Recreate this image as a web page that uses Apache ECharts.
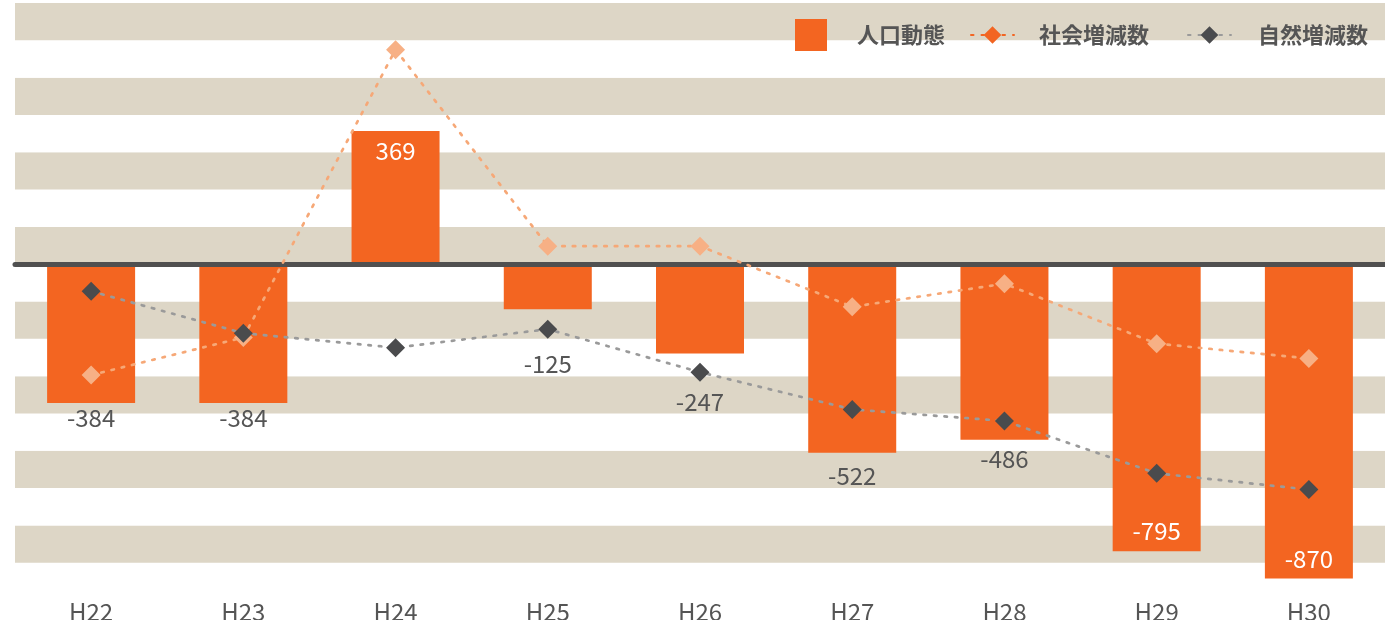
<!DOCTYPE html>
<html>
<head>
<meta charset="utf-8">
<script src="https://cdn.jsdelivr.net/npm/echarts@6/dist/echarts.min.js"></script>
<style>
  html, body { margin: 0; padding: 0; background: #fff; }
  #main { width: 1385px; height: 620px; }
</style>
</head>
<body>
<!-- 人口動態グラフ -->
<div id="main"></div>
<script>
// 年度
const categories = ["H22", "H23", "H24", "H25", "H26", "H27", "H28", "H29", "H30"];
// 人口動態（棒）
const population = [-384, -384, 369, -125, -247, -522, -486, -795, -870];
// 社会増減数
const socialChange = [-307, -203, 594, 50, 50, -118, -54, -220, -261];
// 自然増減数
const naturalChange = [-75, -191, -231, -180, -299, -402, -434, -579, -624];
// 棒の中にラベルを置く年度
const insideLabels = ["H24", "H29", "H30"];
// マーカーと重ならないようにラベルを下げる距離
const labelGap = { H25: 43, H26: 36, H27: 11, H28: 7 };

const FONT = "'Noto Sans CJK JP', 'Noto Sans', sans-serif";

const barData = population.map(function (v, i) {
  const inside = insideLabels.indexOf(categories[i]) >= 0;
  return {
    value: v,
    label: inside
      ? { position: v > 0 ? "insideTop" : "insideBottom", color: "#fff", distance: 8 }
      : { position: v > 0 ? "top" : "bottom", color: "#555", distance: labelGap[categories[i]] || 3 }
  };
});

const legendText = { fontSize: 22, fontWeight: "bold", color: "#555", fontFamily: FONT };

const chart = echarts.init(document.getElementById("main"));
chart.setOption({
  animation: false,
  textStyle: { fontFamily: FONT },
  grid: { left: 15, right: 0, top: 3, bottom: 20, outerBoundsMode: "none", containLabel: false },
  legend: [
    {
      left: 795, top: 19, padding: 0,
      itemWidth: 32, itemHeight: 32,
      data: [{ name: "人口動態", icon: "rect" }],
      textStyle: Object.assign({ padding: [0, 0, 0, 25] }, legendText)
    },
    {
      left: 970, top: 24, padding: 0,
      itemWidth: 43, itemHeight: 22,
      data: [{ name: "社会増減数", itemStyle: { color: "#f26522" }, lineStyle: { color: "#f26522" } }],
      textStyle: Object.assign({ padding: [0, 0, 0, 20] }, legendText)
    },
    {
      left: 1187, top: 24, padding: 0,
      itemWidth: 43, itemHeight: 22,
      data: [{ name: "自然増減数", itemStyle: { color: "#4a4b4d" }, lineStyle: { color: "#9a9a9a" } }],
      textStyle: Object.assign({ padding: [0, 0, 0, 22] }, legendText)
    }
  ],
  xAxis: [
    {
      type: "category",
      data: categories,
      axisLine: { show: false, onZero: false },
      axisTick: { show: false },
      axisLabel: { color: "#555", fontSize: 24, margin: 0 }
    },
    {
      // ゼロの線
      type: "category",
      data: categories,
      position: "bottom",
      axisLine: { show: true, onZero: true, onZeroAxisIndex: 0, lineStyle: { color: "#505050", width: 5 } },
      axisTick: { show: false },
      axisLabel: { show: false },
      z: 5
    }
  ],
  yAxis: [
    {
      type: "value",
      min: -929.7,
      max: 723.1,
      show: false,
      splitLine: { show: false }
    },
    {
      // 背景の縞
      type: "value",
      min: -9,
      max: 7,
      interval: 1,
      axisLine: { show: false },
      axisTick: { show: false },
      axisLabel: { show: false },
      splitLine: { show: false },
      splitArea: { show: true, areaStyle: { color: ["#ffffff", "#ddd6c6"] } }
    }
  ],
  series: [
    {
      name: "人口動態",
      type: "bar",
      barWidth: 88,
      data: barData,
      itemStyle: { color: "#f36521" },
      label: { show: true, fontSize: 24, fontFamily: FONT }
    },
    {
      name: "社会増減数",
      type: "line",
      data: socialChange,
      symbol: "diamond",
      symbolSize: 19,
      itemStyle: { color: "#f7b085" },
      lineStyle: { color: "#f6a877", width: 2.7, type: [2.5, 8], cap: "round" },
      z: 6
    },
    {
      name: "自然増減数",
      type: "line",
      data: naturalChange,
      symbol: "diamond",
      symbolSize: 19,
      itemStyle: { color: "#4a4b4d" },
      lineStyle: { color: "#9a9a9a", width: 2.7, type: [2.5, 8], cap: "round" },
      z: 7
    }
  ]
});
</script>
</body>
</html>
